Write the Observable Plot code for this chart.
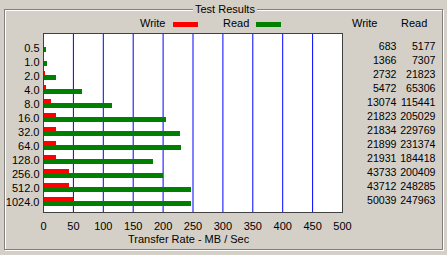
<!DOCTYPE html>
<html>
<head>
<meta charset="utf-8">
<script src="https://cdn.jsdelivr.net/npm/d3@7"></script>
<script src="https://cdn.jsdelivr.net/npm/@observablehq/plot@0.6"></script>
<style>
  html, body { margin: 0; padding: 0; background: #d4d0c8; }
  #wrap { position: relative; width: 447px; height: 255px; background: #d4d0c8; overflow: hidden;
          font-family: "Liberation Sans", Arial, sans-serif; font-size: 11px; color: #000; }
  .etch { position: absolute; box-sizing: border-box; }
  .lbl { position: absolute; line-height: 13px; white-space: nowrap; z-index: 3; }
  .sw { position: absolute; z-index: 3; }
  #chart { position: absolute; left: 0; top: 0; z-index: 2; }
</style>
</head>
<body>
<div id="wrap">
  <div class="etch" style="left:5px;top:10px;width:439px;height:241px;border:1px solid #ffffff;"></div>
  <div class="etch" style="left:4px;top:9px;width:439px;height:241px;border:1px solid #808080;"></div>
  <div id="chart"></div>
  <div class="lbl" style="left:193px;top:3px;padding:0 2px;background:#d4d0c8;">Test Results</div>
  <div class="lbl" style="left:140px;top:17px;">Write</div>
  <div class="sw" style="left:173px;top:22px;width:25px;height:5px;background:#ff0000;"></div>
  <div class="lbl" style="left:223px;top:17px;">Read</div>
  <div class="sw" style="left:256px;top:22px;width:25px;height:5px;background:#008000;"></div>
  <div class="lbl" style="left:352px;top:17px;">Write</div>
  <div class="lbl" style="left:401px;top:17px;">Read</div>
  <div class="lbl" style="left:128px;top:233px;">Transfer Rate - MB / Sec</div>
</div>
<script>
// Transfer sizes (KB)
const sizes = ["0.5","1.0","2.0","4.0","8.0","16.0","32.0","64.0","128.0","256.0","512.0","1024.0"];
// Write / Read rates in KB/s
const writeKB = [683,1366,2732,5472,13074,21823,21834,21899,21931,43733,43712,50039];
const readKB  = [5177,7307,21823,65306,115441,205029,229769,231374,184418,200409,248285,247963];
const writeColor = "#ff0000";
const readColor = "#008000";
const xTicks = [0,50,100,150,200,250,300,350,400,450,500];
const gridTicks = [50,100,150,200,250,300,350,400,450];

const rows = sizes.map((s, i) => ({
  size: s,
  write: writeKB[i] / 1000,
  read: readKB[i] / 1000,
  w: String(writeKB[i]),
  r: String(readKB[i])
}));

const chart = Plot.plot({
  width: 447,
  height: 255,
  marginLeft: 43,
  marginRight: 105,
  marginTop: 33,
  marginBottom: 43,
  style: {background: "transparent", fontFamily: "'Liberation Sans', Arial, sans-serif", fontSize: "11px", color: "#000"},
  x: {domain: [0, 500], axis: null},
  y: {domain: sizes, paddingInner: 0, paddingOuter: 0.13, label: null, axis: null},
  marks: [
    Plot.frame({fill: "#ffffff", stroke: null}),
    Plot.ruleX(gridTicks, {stroke: "#0000ff", strokeWidth: 1}),
    Plot.barX(rows, {y: "size", x: "write", fill: writeColor, insetTop: 3.6, insetBottom: 6.3, shapeRendering: "crispEdges"}),
    Plot.barX(rows, {y: "size", x: "read", fill: readColor, insetTop: 8.4, insetBottom: 1.5, shapeRendering: "crispEdges"}),
    Plot.frame({stroke: "#404040", strokeWidth: 1}),
    Plot.axisX({ticks: xTicks, tickSize: 0, tickPadding: 10, label: null, anchor: "bottom"}),
    Plot.axisY({tickSize: 0, tickPadding: 4, dy: 2, label: null, anchor: "left"}),
    Plot.text(rows, {y: "size", text: "w", frameAnchor: "right", dx: 54, dy: 0.5, textAnchor: "end", fontSize: 10.6}),
    Plot.text(rows, {y: "size", text: "r", frameAnchor: "right", dx: 93, dy: 0.5, textAnchor: "end", fontSize: 10.6})
  ]
});
document.getElementById("chart").appendChild(chart);
</script>
</body>
</html>
